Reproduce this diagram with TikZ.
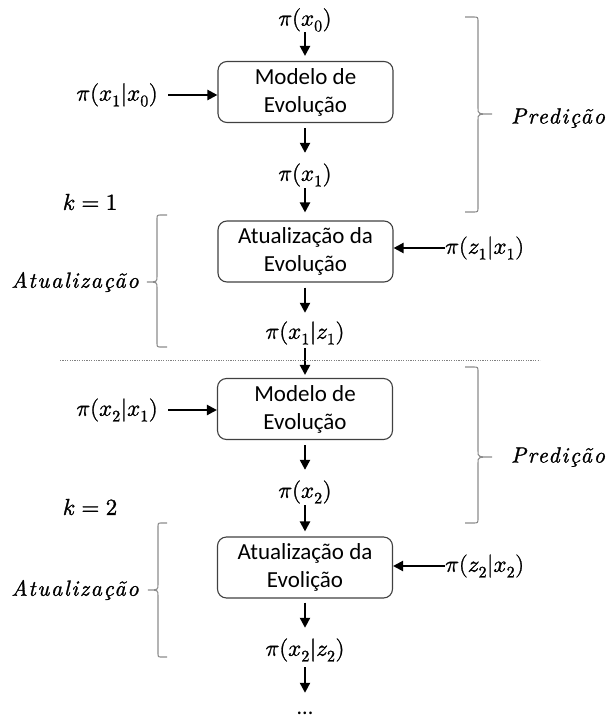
\documentclass[tikz,border=0pt]{standalone}
\usepackage{fontspec}
\usepackage{unicode-math}
\setmathfont{latinmodern-math.otf}[FakeBold=1.2]
\newfontfamily\boxfont{Carlito}
\newfontfamily\labit{lmroman10-italic.otf}[LetterSpace=8, FakeBold=1.2]
\usetikzlibrary{arrows.meta}
\tikzset{
  bx/.style={draw=black!75, line width=1.1pt, rounded corners=9pt, minimum width=175pt, minimum height=61pt, align=center, inner sep=0pt, font=\boxfont\fontsize{23}{28}\selectfont},
  mth/.style={inner sep=0pt, font=\fontsize{23}{27}\selectfont},
  arr/.style={line width=2.2pt, -{Triangle[length=10pt,width=10pt]}},
  br/.style={draw=black!45, line width=1.1pt},
  lab/.style={inner sep=0pt, font=\labit\fontsize{22}{26}\selectfont},
  sep/.style={draw=black!50, line width=0.8pt, dash pattern=on 1.2pt off 1.2pt}
}
\newcommand\drawbrace[6]{%
  \draw[br] (#1,#4) -- ({#2+(#1-#2)*0.4},#4) .. controls (#2,#4) .. (#2,#4+5)
    -- (#2,#5-6) .. controls (#2,#5) .. (#3,#5) .. controls (#2,#5) .. (#2,#5+6)
    -- (#2,#6-5) .. controls (#2,#6) .. ({#2+(#1-#2)*0.4},#6) -- (#1,#6);}
\begin{document}
\begin{tikzpicture}[x=1pt,y=-1pt]
\useasboundingbox (0,0) rectangle (606,720);
% nodes
\node[mth] (p0) at (305,20) {$\pi(x_0)$};
\node[bx] (b1) at (305.5,92) {Modelo de\\Evolução};
\node[mth, anchor=east] (q1) at (158,95) {$\pi(x_1|x_0)$};
\node[mth] (p1) at (305,175) {$\pi(x_1)$};
\node[mth] (k1) at (90,202) {$k=1$};
\node[bx] (b2) at (305.5,251.5) {Atualização da\\Evolução};
\node[mth, anchor=west] (r1) at (445,248) {$\pi(z_1|x_1)$};
\node[mth] (p2) at (305,333) {$\pi(x_1|z_1)$};
\node[bx] (b3) at (305,409) {Modelo de\\Evolução};
\node[mth, anchor=east] (q2) at (158,410) {$\pi(x_2|x_1)$};
\node[mth] (p3) at (305,492) {$\pi(x_2)$};
\node[mth] (k2) at (90,507) {$k=2$};
\node[bx] (b4) at (305,567.5) {Atualização da\\Evolição};
\node[mth, anchor=west] (r2) at (445,566) {$\pi(z_2|x_2)$};
\node[mth] (p4) at (305,650) {$\pi(x_2|z_2)$};
\node[inner sep=0pt, text height=3pt, text depth=0pt, font=\boxfont\fontsize{22}{26}\selectfont] (dots) at (305,713) {...};
\node[lab] (pr1) at (558,118) {Predição};
\node[lab] (pr2) at (558,457) {Predição};
\node[lab] (at1) at (75,282) {Atualização};
\node[lab] (at2) at (75,590) {Atualização};
% vertical arrows
\draw[arr, shorten <=0.5pt, shorten >=5pt] (p0.south) -- (p0.south |- b1.north);
\draw[arr, shorten <=5pt, shorten >=10.5pt] (b1.south -| p1) -- (p1.north);
\draw[arr, shorten <=1.5pt, shorten >=8pt] (p1.south) -- (p1.south |- b2.north);
\draw[arr, shorten <=5pt, shorten >=8.5pt] (b2.south -| p2) -- (p2.north);
\draw[arr, shorten <=3.5pt, shorten >=3pt] (p2.south) -- (b3.north);
\draw[arr, shorten <=5pt, shorten >=10.5pt] (b3.south) -- (p3.north);
\draw[arr, shorten <=1.5pt, shorten >=5pt] (p3.south) -- (b4.north);
\draw[arr, shorten <=4pt, shorten >=10.5pt] (b4.south) -- (p4.north);
\draw[arr, shorten <=5.5pt, shorten >=18.5pt] (p4.south) -- (dots.north);
% horizontal arrows
\draw[arr, shorten <=10pt] (q1.east) -- (q1.east -| b1.west);
\draw[arr, shorten <=10pt] (q2.east) -- (q2.east -| b3.west);
\draw[arr] (r1.west) -- (r1.west -| b2.east);
\draw[arr] (r2.west) -- (r2.west -| b4.east);
% separator
\coordinate (sl) at (60,360);
\coordinate (sr) at (540,360);
\draw[sep] (sl) -- (sr);
% braces
\drawbrace{465}{478}{492}{17}{114}{212}
\drawbrace{167}{157}{147}{215}{282}{347}
\drawbrace{465}{478}{492}{367}{457}{523}
\drawbrace{167}{158}{148}{523}{590}{657}
\end{tikzpicture}
\end{document}
